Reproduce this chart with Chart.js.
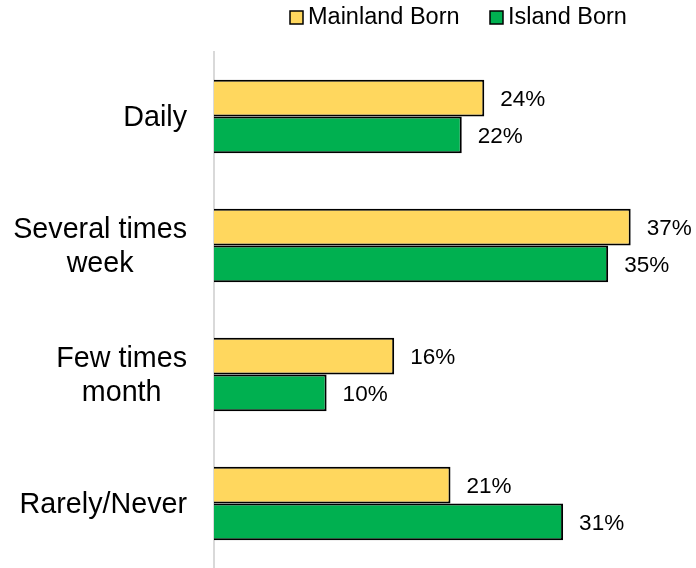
<!DOCTYPE html>
<html>
<head>
<meta charset="utf-8">
<script src="https://cdn.jsdelivr.net/npm/chart.js@4"></script>
<style>
  html, body { margin: 0; padding: 0; background: #fff; }
  #wrap { width: 696px; height: 568px; position: relative; }
</style>
</head>
<body>
<div id="wrap"><canvas id="chart"></canvas></div>
<script>
var categories = [["Daily"], ["Several times", "week"], ["Few times", "month"], ["Rarely/Never"]];
var seriesNames = ["Mainland Born", "Island Born"];
var mainland = [24, 37, 16, 21];
var island = [22, 35, 10, 31];
var colors = ["#FFD75E", "#00B050"];

var FONT = "'Liberation Sans', Arial, sans-serif";

// value labels at end of each bar
var barLabels = {
    id: 'barLabels',
    afterDatasetsDraw: function(chart) {
        var ctx = chart.ctx;
        ctx.save();
        ctx.font = "22.5px " + FONT;
        ctx.fillStyle = "#000";
        ctx.textAlign = "left";
        ctx.textBaseline = "middle";
        chart.data.datasets.forEach(function(ds, di) {
            var meta = chart.getDatasetMeta(di);
            meta.data.forEach(function(el, i) {
                ctx.fillText(ds.data[i] + "%", el.x + 16, el.y + 2);
            });
        });
        ctx.restore();
    }
};

// category labels: lines centered on each other, block right aligned
var catLabels = {
    id: 'catLabels',
    afterDraw: function(chart) {
        var ctx = chart.ctx;
        var scale = chart.scales.y;
        ctx.save();
        ctx.font = "28.7px " + FONT;
        ctx.fillStyle = "#000";
        ctx.textAlign = "center";
        ctx.textBaseline = "middle";
        var lh = 34;
        categories.forEach(function(lines, i) {
            var y = scale.getPixelForTick(i) + 2;
            var w = 0;
            lines.forEach(function(t) { w = Math.max(w, ctx.measureText(t).width); });
            var cx = 187 - w / 2;
            var y0 = y - (lines.length - 1) * lh / 2;
            lines.forEach(function(t, k) {
                ctx.fillText(t, cx, y0 + k * lh);
            });
        });
        ctx.restore();
    }
};

// legend at top right
var topLegend = {
    id: 'topLegend',
    afterDraw: function(chart) {
        var ctx = chart.ctx;
        ctx.save();
        ctx.font = "23.5px " + FONT;
        ctx.textBaseline = "middle";
        ctx.textAlign = "left";
        var starts = [290, 490];
        chart.data.datasets.forEach(function(ds, i) {
            var x = starts[i];
            ctx.fillStyle = ds.backgroundColor;
            ctx.fillRect(x, 11, 13, 13);
            ctx.lineWidth = 1.5;
            ctx.strokeStyle = "#000";
            ctx.strokeRect(x, 11, 13, 13);
            ctx.fillStyle = "#000";
            ctx.fillText(ds.label, x + 18, 18);
        });
        ctx.restore();
    }
};

new Chart(document.getElementById("chart"), {
    type: 'bar',
    data: {
        labels: categories,
        datasets: [{
            label: seriesNames[0],
            data: mainland,
            backgroundColor: colors[0],
            borderColor: "#000",
            borderWidth: 2,
            borderSkipped: 'left'
        }, {
            label: seriesNames[1],
            data: island,
            backgroundColor: colors[1],
            borderColor: "#000",
            borderWidth: 2,
            borderSkipped: 'left'
        }]
    },
    options: {
        indexAxis: 'y',
        responsive: true,
        maintainAspectRatio: false,
        animation: false,
        layout: { padding: { top: 52, right: 0, bottom: 0, left: 0 } },
        datasets: {
            bar: { categoryPercentage: 0.57, barPercentage: 1.0 }
        },
        scales: {
            x: {
                display: false,
                min: 0,
                max: 42.8
            },
            y: {
                grid: { display: false },
                border: { color: "#d9d9d9", width: 2 },
                ticks: { display: false },
                afterFit: function(scale) { scale.width = 214; }
            }
        },
        plugins: {
            legend: { display: false },
            tooltip: { enabled: false }
        }
    },
    plugins: [barLabels, catLabels, topLegend]
});
</script>
</body>
</html>
